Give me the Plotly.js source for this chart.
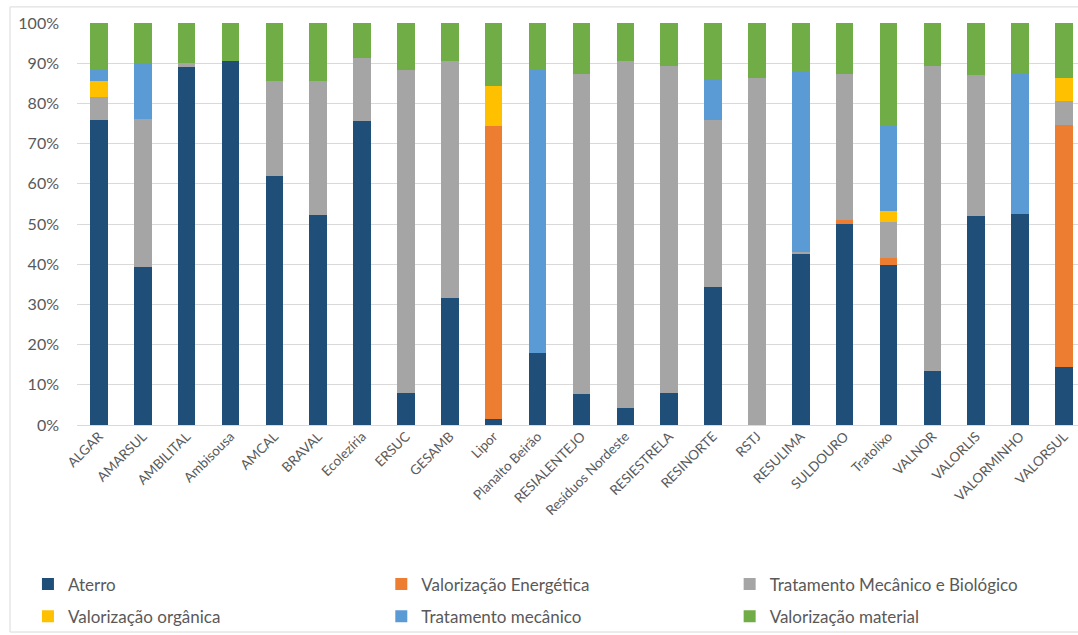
<!DOCTYPE html>
<html>
<head>
<meta charset="utf-8">
<script src="https://cdn.plot.ly/plotly-3.0.1.min.js"></script>
<style>
  html, body { margin: 0; padding: 0; background: #ffffff; }
  #chart { width: 1078px; height: 635px; }
</style>
</head>
<body>
<div id="chart"></div>
<script>
// Waste-management systems (categories on the x axis)
const sistemas = [
  'ALGAR', 'AMARSUL', 'AMBILITAL', 'Ambisousa', 'AMCAL', 'BRAVAL', 'Ecolezíria',
  'ERSUC', 'GESAMB', 'Lipor', 'Planalto Beirão', 'RESIALENTEJO', 'Resíduos Nordeste',
  'RESIESTRELA', 'RESINORTE', 'RSTJ', 'RESULIMA', 'SULDOURO', 'Tratolixo', 'VALNOR',
  'VALORLIS', 'VALORMINHO', 'VALORSUL'
];

// Share of each destination, in percent, per system
const aterro = [75.9, 39.4, 89.0, 90.6, 62.0, 52.3, 75.7, 7.9, 31.7, 1.4, 18.0, 7.6, 4.3,
                7.9, 34.3, 0, 42.6, 50.0, 39.8, 13.4, 52.0, 52.5, 14.5];
const valorizacaoEnergetica = [0, 0, 0, 0, 0, 0, 0, 0, 0, 72.9, 0, 0, 0,
                0, 0, 0, 0, 1.0, 1.7, 0, 0, 0, 60.2];
const tmb = [5.7, 36.8, 1.0, 0, 23.5, 33.3, 15.6, 80.5, 58.8, 0, 0, 79.8, 86.2,
                81.3, 41.6, 86.3, 0.5, 36.4, 8.9, 75.8, 35.1, 0, 5.8];
const valorizacaoOrganica = [3.9, 0, 0, 0, 0, 0, 0, 0, 0, 10.1, 0, 0, 0,
                0, 0, 0, 0, 0, 2.9, 0, 0, 0, 5.8];
const tratamentoMecanico = [3.0, 13.8, 0, 0, 0, 0, 0, 0, 0, 0, 70.2, 0, 0,
                0, 10.2, 0, 44.9, 0, 21.1, 0, 0, 34.9, 0];
const valorizacaoMaterial = [11.5, 10.0, 10.0, 9.4, 14.5, 14.4, 8.7, 11.6, 9.5, 15.6, 11.8, 12.6, 9.5,
                10.8, 13.9, 13.7, 12.0, 12.6, 25.6, 10.8, 12.9, 12.6, 13.7];

const yTicks = [0, 10, 20, 30, 40, 50, 60, 70, 80, 90, 100];

const series = [
  { name: 'Aterro', y: aterro, color: '#1f4e79', legend: 'legend' },
  { name: 'Valorização Energética', y: valorizacaoEnergetica, color: '#ed7d31', legend: 'legend2' },
  { name: 'Tratamento Mecânico e Biológico', y: tmb, color: '#a5a5a5', legend: 'legend3' },
  { name: 'Valorização orgânica', y: valorizacaoOrganica, color: '#ffc000', legend: 'legend' },
  { name: 'Tratamento mecânico', y: tratamentoMecanico, color: '#5b9bd5', legend: 'legend2' },
  { name: 'Valorização material', y: valorizacaoMaterial, color: '#70ad47', legend: 'legend3' }
];

const traces = series.map((s, i) => ({
  type: 'bar',
  name: s.name,
  x: sistemas,
  y: s.y,
  marker: { color: s.color, line: { width: 0 } },
  legend: s.legend,
  legendgroup: 'g' + i,
  hovertemplate: '%{x}<br>' + s.name + ': %{y:.1f}%<extra></extra>'
}));

const FONT = 'Lato, "Open Sans", "Liberation Sans", sans-serif';
const TEXT = '#595959';

const legendBase = {
  orientation: 'v',
  traceorder: 'grouped',
  tracegroupgap: 7,
  yanchor: 'top',
  y: -0.352,
  xanchor: 'left',
  bgcolor: 'rgba(0,0,0,0)',
  font: { family: FONT, size: 17, color: TEXT }
};

const layout = {
  width: 1078,
  height: 635,
  margin: { l: 77, r: 0, t: 23, b: 210 },
  paper_bgcolor: '#ffffff',
  plot_bgcolor: '#ffffff',
  barmode: 'stack',
  bargap: 0.6,
  font: { family: FONT, color: TEXT },
  xaxis: {
    type: 'category',
    range: [-0.5, 22.32],
    tickangle: -45,
    tickfont: { family: FONT, size: 13.5, color: TEXT },
    showgrid: false,
    showline: false,
    ticks: '',
    fixedrange: true
  },
  yaxis: {
    range: [0, 100],
    tickvals: yTicks,
    ticktext: yTicks.map(v => v + '%'),
    tickfont: { family: FONT, size: 16, color: TEXT },
    gridcolor: '#d9d9d9',
    gridwidth: 1,
    zeroline: true,
    zerolinecolor: '#d9d9d9',
    showline: false,
    ticks: '',
    ticklabelstandoff: 17,
    fixedrange: true
  },
  legend: Object.assign({}, legendBase, { x: -0.049 }),
  legend2: Object.assign({}, legendBase, { x: 0.304 }),
  legend3: Object.assign({}, legendBase, { x: 0.652 }),
  shapes: [{
    type: 'rect', xref: 'paper', yref: 'paper', layer: 'below',
    x0: -0.0669, x1: 1.02, y0: -0.515, y1: 1.04,
    line: { color: '#d9d9d9', width: 1 }, fillcolor: 'rgba(0,0,0,0)'
  }]
};

Plotly.newPlot('chart', traces, layout, { displayModeBar: false, responsive: false });
</script>
</body>
</html>
